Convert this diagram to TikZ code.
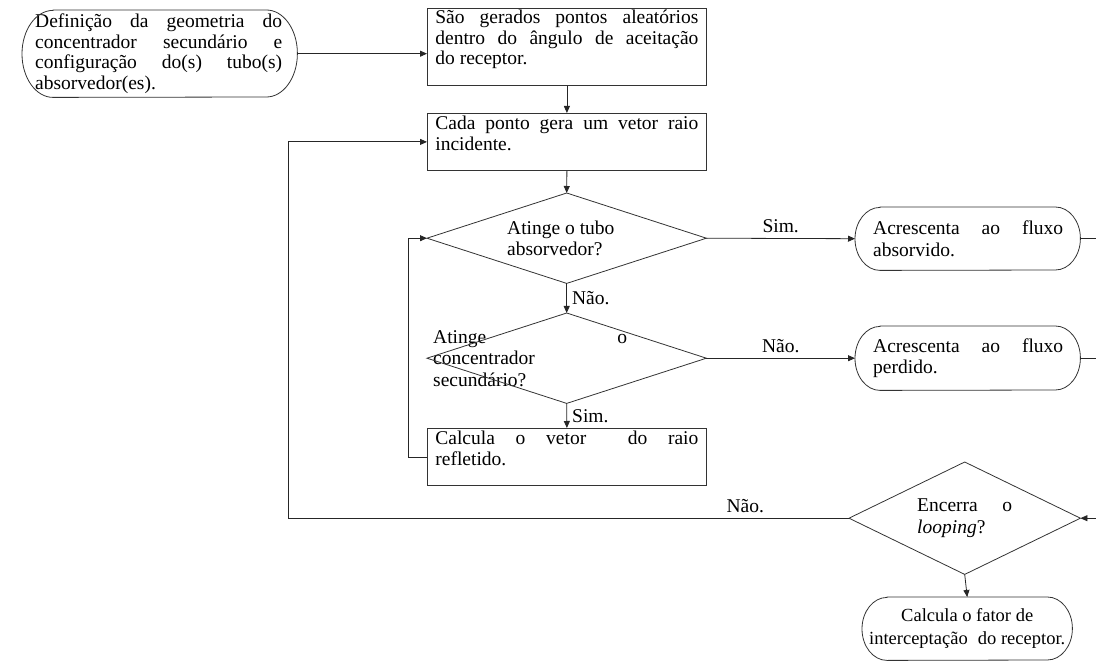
\documentclass[tikz,border=0pt]{standalone}
\usepackage{fontspec}
\setmainfont{Liberation Serif}
\usetikzlibrary{arrows.meta,calc}

\tikzset{
  outline/.style={draw=black!80, line width=0.8pt},
  shell/.style={rectangle, inner sep=0pt, anchor=north west},
  flow/.style={draw=black!85, line width=0.8pt},
  arr/.style={flow, -{Triangle[length=7pt,width=6pt]}},
  lbl/.style={inner sep=0pt},
}

% terminal (stadium) outline around a named node: name, end x-radius, height
\newcommand\terminal[3]{%
  \draw[outline] ($(#1.north west)+(#2pt,0)$) -- ($(#1.north east)+(-#2pt,0)$)
    arc[start angle=90, end angle=-90, x radius=#2pt, y radius=#3pt/2]
    -- ($(#1.south west)+(#2pt,0)$)
    arc[start angle=270, end angle=90, x radius=#2pt, y radius=#3pt/2] -- cycle;}

% decision outline through the four sides of a named node
\newcommand\decision[1]{%
  \draw[outline] (#1.north) -- (#1.east) -- (#1.south) -- (#1.west) -- cycle;}

\begin{document}
\begin{tikzpicture}[x=1pt, y=-1pt, font=\fontsize{19.5}{20.5}\selectfont]
\useasboundingbox (0,0) rectangle (1096,671);

% ---- process steps ----
\node[shell, minimum width=275pt, minimum height=87pt] (start) at (22,10)
  {\makebox[275pt][l]{\hspace{13pt}\parbox{247pt}{%
    \makebox[247pt][s]{Definição da geometria do}\\
    \makebox[247pt][s]{concentrador secundário e}\\
    \makebox[247pt][s]{configuração do(s) tubo(s)}\\
    absorvedor(es).}}};
\terminal{start}{31}{87}

\node[shell, outline, minimum width=279pt, minimum height=77pt] (b1) at (427,8)
  {\makebox[279pt][l]{\hspace{8pt}\parbox[c][77pt][t]{263pt}{\vspace{2pt}%
    \makebox[263pt][s]{São gerados pontos aleatórios}\\
    \makebox[263pt][s]{dentro do ângulo de aceitação}\\
    do receptor.}}};

\node[shell, outline, minimum width=279pt, minimum height=57pt] (b2) at (427,113)
  {\makebox[279pt][l]{\hspace{8pt}\parbox[c][57pt][t]{263pt}{\vspace{3pt}%
    \makebox[263pt][s]{Cada ponto gera um vetor raio}\\
    incidente.}}};

\node[shell, minimum width=279pt, minimum height=90pt] (d1) at (427,193)
  {\makebox[279pt][l]{\hspace{80pt}\parbox{140pt}{Atinge o tubo\\absorvedor?}}};
\decision{d1}

\node[shell, minimum width=279pt, minimum height=90pt] (d2) at (427,313)
  {\makebox[279pt][l]{\hspace{6pt}\parbox{194pt}{%
    \makebox[194pt][s]{Atinge o}\\[1pt]
    concentrador\\[1pt]
    secundário?}}};
\decision{d2}

\node[shell, outline, minimum width=279pt, minimum height=57pt] (b3) at (427,428)
  {\makebox[279pt][l]{\hspace{8pt}\parbox[c][57pt][t]{263pt}{\vspace{3pt}%
    \makebox[263pt][s]{Calcula o vetor\ \ do raio}\\
    refletido.}}};

\node[shell, minimum width=225pt, minimum height=63pt] (s2) at (855,207)
  {\makebox[225pt][l]{\hspace{18pt}\parbox{190pt}{%
    \makebox[190pt][s]{Acrescenta ao fluxo}\\[1pt]
    absorvido.}}};
\terminal{s2}{25}{63}

\node[shell, minimum width=225pt, minimum height=64pt] (s3) at (855,326)
  {\makebox[225pt][l]{\hspace{18pt}\parbox{190pt}{%
    \makebox[190pt][s]{Acrescenta ao fluxo}\\[1pt]
    perdido.}}};
\terminal{s3}{25}{64}

\node[shell, minimum width=231pt, minimum height=112pt] (d3) at (849,462)
  {\makebox[231pt][l]{\hspace{68pt}\parbox{95pt}{%
    \makebox[95pt][s]{Encerra o}\\[1pt]
    \textit{looping}?}}};
\decision{d3}

\node[shell, minimum width=210pt, minimum height=63pt,
      font=\fontsize{18.5}{20.5}\selectfont] (fin) at (862,597)
  {\parbox{210pt}{\centering Calcula o fator de\\[3pt]interceptação\hspace{0.3em} do receptor.}};
\terminal{fin}{25}{63}

% ---- routing columns and the right-hand edge ----
\coordinate (ret1) at (288,0);
\coordinate (ret2) at (408,0);
\coordinate (edge) at (1096,0);

% ---- connectors ----
\draw[arr] (start.east) -- (start.east -| b1.west);
\draw[arr] (b1.south) -- (b2.north);
\draw[arr] (b2.south) -- (d1.north);
\draw[arr] (d1.east) -- node[lbl, above=5pt] {Sim.} (s2.west);
\draw[arr] (d1.south) -- node[lbl, right=5pt] {Não.} (d2.north);
\draw[arr] (d2.east) -- node[lbl, above=5pt] {Não.} (s3.west);
\draw[arr] (d2.south) -- node[lbl, right=5pt] {Sim.} (b3.north);
\draw[arr] (b3.west) -- (b3.west -| ret2) |- (d1.west);
\draw[flow] (s2.east) -- (s2.east -| edge);
\draw[flow] (s3.east) -- (s3.east -| edge);
\draw[arr] (d3.east -| edge) -- (d3.east);
\draw[arr] (d3.west) -- node[lbl, above=5pt, pos=0.185] {Não.} (d3.west -| ret1) |- (b2.west);
\draw[arr] (d3.south) -- (fin.north);
\end{tikzpicture}
\end{document}
